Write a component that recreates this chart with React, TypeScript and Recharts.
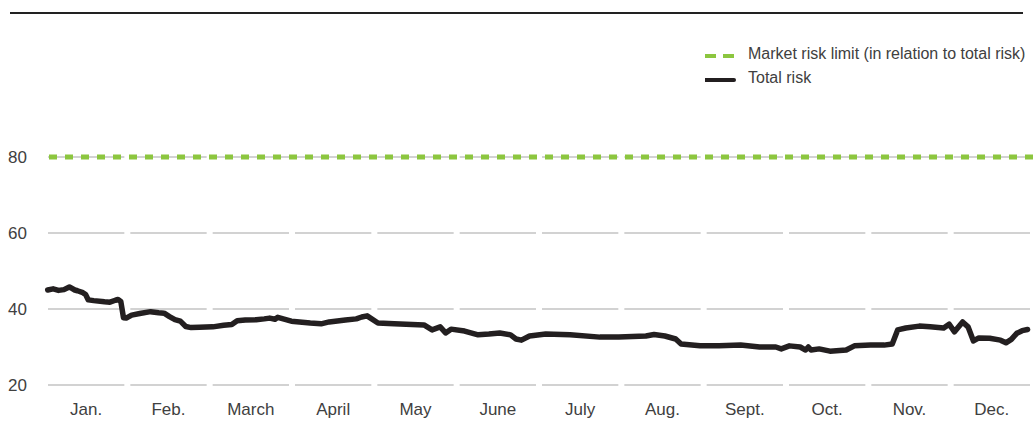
import React from 'react';
import { LineChart, Line, XAxis, YAxis, CartesianGrid } from 'recharts';

const months = ['Jan.', 'Feb.', 'March', 'April', 'May', 'June', 'July', 'Aug.', 'Sept.', 'Oct.', 'Nov.', 'Dec.'];
const yTicks = [20, 40, 60, 80];
const riskLimit = 80;

// day of year (equal-month calendar, 365 days)
const days = [
  1, 3, 5, 7, 9, 11, 12, 14, 15, 16, 18, 22, 24, 26, 27, 28, 29, 30, 32, 35,
  39, 42, 44, 46, 48, 50, 52, 54, 57, 62, 66, 69, 71, 74, 78, 81, 83, 85, 86, 88,
  91, 98, 102, 105, 111, 115, 117, 119, 123, 129, 140, 143, 146, 148, 150, 155, 160, 164, 168, 172,
  174, 176, 179, 185, 194, 205, 212, 222, 225, 229, 233, 235, 242, 249, 257, 264, 270, 272, 275, 279,
  281, 282, 283, 286, 290, 296, 299, 305, 310, 313, 315, 318, 323, 327, 332, 334, 336, 339, 341, 343,
  345, 349, 353, 355, 357, 359, 361, 363,
];
const totalRisk = [
  45.0, 45.3, 44.9, 45.1, 45.8, 45.0, 44.8, 44.3, 43.8, 42.4, 42.2, 41.9, 41.8, 42.3, 42.5, 42.0, 37.7, 37.6, 38.4, 38.8,
  39.3, 39.0, 38.9, 38.0, 37.2, 36.8, 35.4, 35.1, 35.2, 35.3, 35.7, 35.9, 36.9, 37.1, 37.2, 37.4, 37.6, 37.3, 37.8, 37.4,
  36.8, 36.3, 36.1, 36.6, 37.1, 37.4, 37.9, 38.2, 36.3, 36.1, 35.8, 34.5, 35.3, 33.7, 34.7, 34.2, 33.2, 33.4, 33.7, 33.2,
  32.1, 31.8, 32.9, 33.4, 33.2, 32.6, 32.6, 32.9, 33.3, 32.9, 32.1, 30.8, 30.3, 30.3, 30.5, 30.0, 30.0, 29.5, 30.3, 30.0,
  29.2, 30.0, 29.2, 29.5, 28.9, 29.2, 30.3, 30.5, 30.5, 30.8, 34.5, 35.0, 35.5, 35.3, 35.0, 36.0, 34.0, 36.6, 35.3, 31.6,
  32.4, 32.3, 31.8, 31.1, 32.0, 33.6, 34.3, 34.6,
];

const YEAR = 365;
const monthLen = YEAR / 12;
const monthCenters = months.map((_, i) => (i + 0.5) * monthLen);
const monthBounds = [...months.map((_, i) => i * monthLen), YEAR];

const data = days.map((d, i) => ({ day: d, risk: totalRisk[i] }));
const limitData = [
  { day: 0, limit: riskLimit },
  { day: YEAR, limit: riskLimit },
];

const FONT = '"Liberation Sans", Arial, sans-serif';
const TEXT = '#404040';
const GREEN = '#8cc63f';
const BLACK = '#231f20';

const XTick = (props: any) => {
  const { x, y, payload } = props;
  const idx = Math.round(payload.value / monthLen - 0.5);
  return (
    <text x={x} y={y + 30} textAnchor="middle" fill={TEXT} fontSize={17} fontFamily={FONT}>
      {months[idx]}
    </text>
  );
};

const YTick = (props: any) => {
  const { y, payload } = props;
  return (
    <text x={8} y={y + 6} textAnchor="start" fill={TEXT} fontSize={17} fontFamily={FONT}>
      {payload.value}
    </text>
  );
};

const GridV = (p: any) => (
  <line key={p.key} x1={p.x1} y1={p.y1 - 4} x2={p.x2} y2={p.y2 + 4} stroke="#ffffff" strokeWidth={6} />
);
const GridH = (p: any) => (
  <line key={p.key} x1={p.x1} y1={p.y1} x2={p.x2} y2={p.y2} stroke="#d2d2d2" strokeWidth={2} />
);

export default function App() {
  return (
    <div style={{ position: 'absolute', left: 0, top: 0, width: 1033, height: 441, background: '#fff' }}>
      <div style={{ position: 'absolute', left: 10, top: 12, width: 1013, height: 2, background: '#222' }} />
      <LineChart width={1033} height={441} data={data} margin={{ top: 157, right: 0, bottom: 0, left: 0 }}>
        <XAxis
          xAxisId="m"
          dataKey="day"
          type="number"
          domain={[0, YEAR]}
          ticks={monthCenters}
          tick={<XTick />}
          tickLine={false}
          axisLine={false}
          tickSize={0}
          tickMargin={0}
          height={56}
          interval={0}
        />
        <YAxis
          domain={[20, 80]}
          ticks={yTicks}
          tick={<YTick />}
          tickLine={false}
          axisLine={false}
          width={45}
          tickSize={0}
          tickMargin={0}
        />
        <CartesianGrid
          xAxisId="m"
          horizontal={GridH}
          vertical={GridV}
          verticalValues={monthBounds}
          horizontalValues={yTicks}
        />
        <Line
          xAxisId="m"
          data={limitData}
          dataKey="limit"
          stroke={GREEN}
          strokeWidth={5}
          strokeDasharray="8 8"
          strokeDashoffset={12}
          dot={false}
          activeDot={false}
          isAnimationActive={false}
        />
        <Line
          xAxisId="m"
          dataKey="risk"
          type="linear"
          stroke={BLACK}
          strokeWidth={5.5}
          strokeLinejoin="round"
          strokeLinecap="round"
          dot={false}
          activeDot={false}
          isAnimationActive={false}
        />
      </LineChart>
      <div style={{ position: 'absolute', left: 705, top: 42, fontFamily: FONT, fontSize: 16, color: TEXT, lineHeight: '24px' }}>
        <div style={{ display: 'flex', alignItems: 'center' }}>
          <svg width={43} height={24}>
            <line x1={0} y1={14} x2={29} y2={14} stroke={GREEN} strokeWidth={4} strokeDasharray="11 7" />
          </svg>
          <span>Market risk limit (in relation to total risk)</span>
        </div>
        <div style={{ display: 'flex', alignItems: 'center' }}>
          <svg width={43} height={24}>
            <line x1={0} y1={14} x2={29} y2={14} stroke={BLACK} strokeWidth={4} strokeLinecap="round" />
          </svg>
          <span>Total risk</span>
        </div>
      </div>
    </div>
  );
}
